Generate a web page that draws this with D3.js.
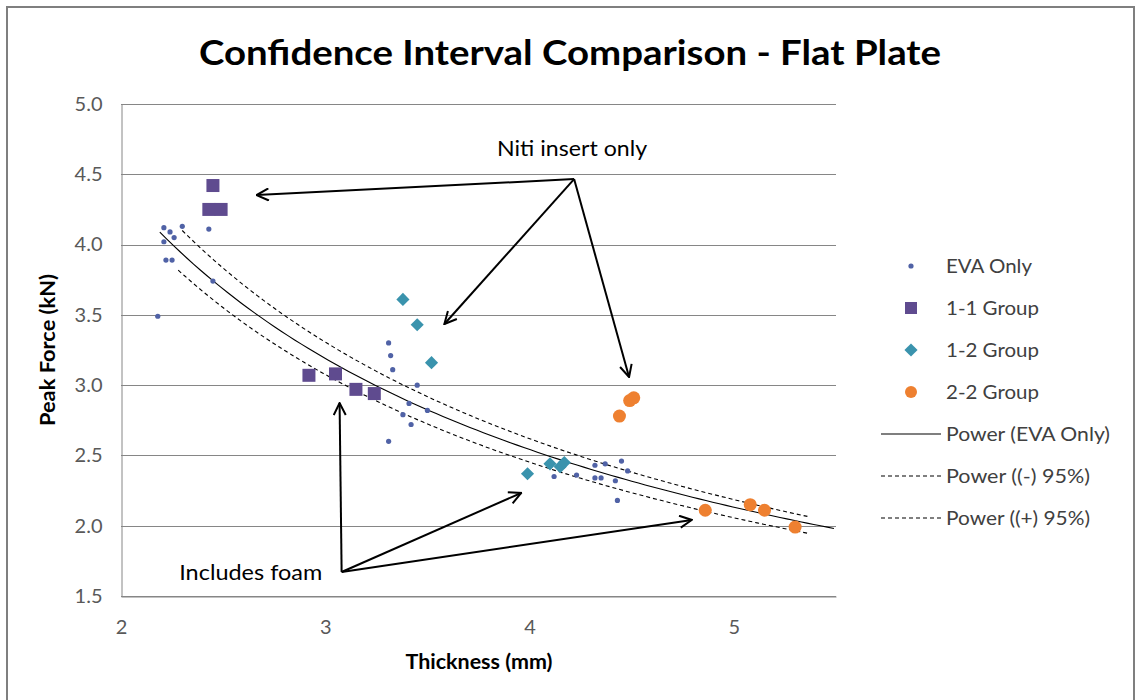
<!DOCTYPE html>
<html>
<head>
<meta charset="utf-8">
<script src="https://cdn.jsdelivr.net/npm/d3@7"></script>
<style>
  body { margin: 0; background: #fff; }
  text { font-family: Lato, "Open Sans", sans-serif; }
</style>
</head>
<body>
<div id="mainDiv"></div>
<script>
'use strict';

// data: [thickness mm, peak force kN]
var evaOnly = [
  [2.18, 3.49], [2.21, 4.12], [2.24, 4.09], [2.26, 4.05], [2.30, 4.13], [2.21, 4.02],
  [2.22, 3.89], [2.25, 3.89], [2.43, 4.11], [2.45, 3.74],
  [3.31, 3.30], [3.32, 3.21], [3.33, 3.11], [3.45, 3.00], [3.41, 2.87], [3.50, 2.82],
  [3.38, 2.79], [3.42, 2.72], [3.31, 2.60],
  [4.12, 2.35], [4.23, 2.36], [4.32, 2.43], [4.37, 2.44], [4.45, 2.46], [4.48, 2.39],
  [4.32, 2.34], [4.35, 2.34], [4.42, 2.32], [4.43, 2.18]
];
var group11 = [[2.45, 4.42], [2.43, 4.25], [2.49, 4.25], [2.92, 3.07], [3.05, 3.08], [3.15, 2.97], [3.24, 2.94]];
var group12 = [[3.38, 3.61], [3.45, 3.43], [3.52, 3.16], [3.99, 2.37], [4.10, 2.44], [4.15, 2.42], [4.17, 2.45]];
var group22 = [[4.44, 2.78], [4.49, 2.89], [4.51, 2.91], [4.86, 2.11], [5.08, 2.15], [5.15, 2.11], [5.30, 1.99]];

// power trendlines y = a * x^b, [a, b, xStart, xEnd]
var powerEva   = [7.59, -0.789, 2.19, 5.49];
var powerMinus = [7.31, -0.788, 2.28, 5.36];
var powerPlus  = [8.05, -0.810, 2.30, 5.36];

var xTicks = [2, 3, 4, 5];
var yTicks = [1.5, 2.0, 2.5, 3.0, 3.5, 4.0, 4.5, 5.0];

var legendLabels = ['EVA Only', '1-1 Group', '1-2 Group', '2-2 Group',
                    'Power (EVA Only)', 'Power ((-) 95%)', 'Power ((+) 95%)'];
var legendWidths = [86, 93, 93, 93, 164, 144, 144];

var chart = {};
chart.width = 1136;
chart.height = 700;
chart.plot = {left: 121, top: 104, right: 836, bottom: 596};

chart.xScale = d3.scaleLinear().domain([2, 5.5]).range([chart.plot.left, chart.plot.right]);
chart.yScale = d3.scaleLinear().domain([1.5, 5.0]).range([chart.plot.bottom, chart.plot.top]);

chart.colors = {eva: '#5062a6', g11: '#5f4b8f', g12: '#3a93ad', g22: '#ee8030'};

chart.start = function () {
  var x = chart.xScale, y = chart.yScale, p = chart.plot;

  var svg = d3.select('#mainDiv').append('svg')
    .attr('width', chart.width).attr('height', chart.height);

  svg.append('rect').attr('width', chart.width).attr('height', chart.height).attr('fill', '#fff');
  svg.append('rect').attr('x', 7).attr('y', 7).attr('width', 1127).attr('height', 710)
    .attr('fill', 'none').attr('stroke', '#7f7f7f').attr('stroke-width', 2);

  svg.append('defs').append('marker')
    .attr('id', 'arrow').attr('markerUnits', 'userSpaceOnUse')
    .attr('viewBox', '0 0 14 14').attr('refX', 13).attr('refY', 7)
    .attr('markerWidth', 14).attr('markerHeight', 14).attr('orient', 'auto')
    .append('path').attr('d', 'M1,1 L13,7 L1,13')
    .attr('fill', 'none').attr('stroke', '#000').attr('stroke-width', 2);

  // title
  svg.append('text').attr('x', 570).attr('y', 65).attr('text-anchor', 'middle')
    .attr('font-size', 35).attr('font-weight', 'bold').attr('fill', '#000')
    .attr('textLength', 742).attr('lengthAdjust', 'spacingAndGlyphs')
    .text('Confidence Interval Comparison - Flat Plate');

  // gridlines
  svg.append('g').selectAll('line').data(yTicks.slice(1)).enter().append('line')
    .attr('x1', p.left).attr('x2', p.right)
    .attr('y1', function (d) { return Math.round(y(d)) + 0.5; })
    .attr('y2', function (d) { return Math.round(y(d)) + 0.5; })
    .attr('stroke', '#868686').attr('stroke-width', 1);

  // axes
  var yAxis = svg.append('g').attr('transform', 'translate(' + (p.left + 0.5) + ',0)')
    .call(d3.axisLeft(y).tickValues(yTicks).tickFormat(d3.format('.1f')).tickSize(0).tickPadding(19));
  var xAxis = svg.append('g').attr('transform', 'translate(0,' + (p.bottom + 0.5) + ')')
    .call(d3.axisBottom(x).tickValues(xTicks).tickFormat(d3.format('d')).tickSize(0).tickPadding(23));
  [xAxis, yAxis].forEach(function (a) {
    a.select('.domain').attr('stroke', '#868686');
    a.selectAll('text').attr('font-size', 20).attr('fill', '#595959')
      .attr('font-family', 'Lato, "Open Sans", sans-serif');
  });
  svg.append('line').attr('x1', p.left).attr('x2', p.right)
    .attr('y1', p.bottom + 0.5).attr('y2', p.bottom + 0.5).attr('stroke', '#868686');

  // axis titles
  svg.append('text').attr('x', 479).attr('y', 669).attr('text-anchor', 'middle')
    .attr('font-size', 20).attr('font-weight', 'bold')
    .attr('textLength', 147).attr('lengthAdjust', 'spacingAndGlyphs').text('Thickness (mm)');
  svg.append('text').attr('transform', 'translate(55,350) rotate(-90)').attr('text-anchor', 'middle')
    .attr('font-size', 20).attr('font-weight', 'bold')
    .attr('textLength', 152).attr('lengthAdjust', 'spacingAndGlyphs').text('Peak Force (kN)');

  // trendlines
  function powerCurve(c) {
    return d3.range(0, 101).map(function (i) {
      var t = c[2] + (c[3] - c[2]) * i / 100;
      return [t, c[0] * Math.pow(t, c[1])];
    });
  }
  var line = d3.line().x(function (d) { return x(d[0]); }).y(function (d) { return y(d[1]); });
  var trends = [[powerEva, null], [powerMinus, '4,3'], [powerPlus, '4,3']];
  svg.append('g').selectAll('path').data(trends).enter().append('path')
    .attr('d', function (d) { return line(powerCurve(d[0])); })
    .attr('fill', 'none').attr('stroke', '#000').attr('stroke-width', 1.1)
    .attr('stroke-dasharray', function (d) { return d[1]; });

  // markers
  var diamond = d3.symbol().type(d3.symbolDiamond2).size(110);
  svg.append('g').selectAll('path').data(group12).enter().append('path')
    .attr('d', diamond)
    .attr('transform', function (d) { return 'translate(' + x(d[0]) + ',' + y(d[1]) + ')'; })
    .attr('fill', chart.colors.g12);
  svg.append('g').selectAll('circle').data(group22).enter().append('circle')
    .attr('cx', function (d) { return x(d[0]); }).attr('cy', function (d) { return y(d[1]); })
    .attr('r', 6.5).attr('fill', chart.colors.g22);
  svg.append('g').selectAll('rect').data(group11).enter().append('rect')
    .attr('x', function (d) { return x(d[0]) - 6.5; }).attr('y', function (d) { return y(d[1]) - 6.5; })
    .attr('width', 13).attr('height', 13).attr('fill', chart.colors.g11);
  svg.append('g').selectAll('circle').data(evaOnly).enter().append('circle')
    .attr('cx', function (d) { return x(d[0]); }).attr('cy', function (d) { return y(d[1]); })
    .attr('r', 2.6).attr('fill', chart.colors.eva);

  // annotations
  var nitiFrom = [4.218, 4.466];
  var nitiTo = [[2.664, 4.352], [3.583, 3.435], [4.487, 3.058]];
  var foamFrom = [3.080, 1.671];
  var foamTo = [[3.070, 2.873], [3.959, 2.233], [4.794, 2.041]];
  function arrows(from, to) {
    svg.append('g').selectAll('line').data(to).enter().append('line')
      .attr('x1', x(from[0])).attr('y1', y(from[1]))
      .attr('x2', function (d) { return x(d[0]); }).attr('y2', function (d) { return y(d[1]); })
      .attr('stroke', '#000').attr('stroke-width', 2).attr('marker-end', 'url(#arrow)');
  }
  arrows(nitiFrom, nitiTo);
  arrows(foamFrom, foamTo);
  svg.append('text').attr('x', x(4.208)).attr('y', y(4.629)).attr('text-anchor', 'middle')
    .attr('font-size', 22).attr('fill', '#000')
    .attr('textLength', 150).attr('lengthAdjust', 'spacingAndGlyphs').text('Niti insert only');
  svg.append('text').attr('x', x(2.635)).attr('y', y(1.614)).attr('text-anchor', 'middle')
    .attr('font-size', 22).attr('fill', '#000')
    .attr('textLength', 143).attr('lengthAdjust', 'spacingAndGlyphs').text('Includes foam');

  // legend
  var lg = svg.append('g');
  var rows = lg.selectAll('g').data(legendLabels).enter().append('g')
    .attr('transform', function (d, i) { return 'translate(0,' + (266 + i * 42) + ')'; });
  rows.append('text').attr('x', 946).attr('y', 7).attr('font-size', 20).attr('fill', '#404040')
    .attr('textLength', function (d, i) { return legendWidths[i]; })
    .attr('lengthAdjust', 'spacingAndGlyphs')
    .text(function (d) { return d; });
  rows.filter(function (d, i) { return i === 0; }).append('circle')
    .attr('cx', 911).attr('r', 2.6).attr('fill', chart.colors.eva);
  rows.filter(function (d, i) { return i === 1; }).append('rect')
    .attr('x', 905).attr('y', -6).attr('width', 12).attr('height', 12).attr('fill', chart.colors.g11);
  rows.filter(function (d, i) { return i === 2; }).append('path')
    .attr('d', diamond).attr('transform', 'translate(911,0)').attr('fill', chart.colors.g12);
  rows.filter(function (d, i) { return i === 3; }).append('circle')
    .attr('cx', 911).attr('r', 6).attr('fill', chart.colors.g22);
  rows.filter(function (d, i) { return i >= 4; }).append('line')
    .attr('x1', 881).attr('x2', 941).attr('stroke', '#000').attr('stroke-width', 1.1)
    .attr('stroke-dasharray', function (d, i) { return i === 0 ? null : '4,3'; });
};

window.onload = chart.start;
</script>
</body>
</html>
